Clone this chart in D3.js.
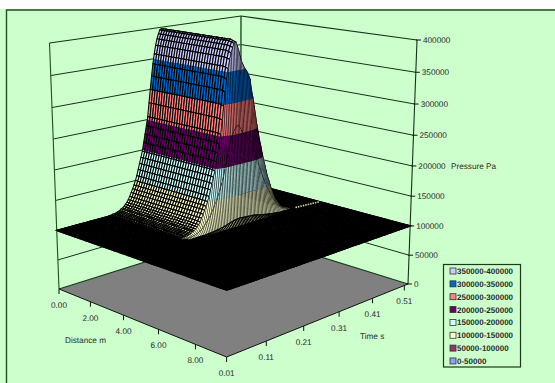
<!DOCTYPE html>
<html><head><meta charset="utf-8">
<script src="https://cdn.jsdelivr.net/npm/d3@7"></script>
<style>
html,body{margin:0;padding:0;background:#fff}
svg{display:block}
text{font-family:"Liberation Sans",Arial,sans-serif;font-size:8.2px;fill:#2a2a2a;text-rendering:geometricPrecision}
</style></head><body>
<svg id="c" width="555" height="383"></svg>
<script>
const legendLabels=["350000-400000","300000-350000","250000-300000","200000-250000","150000-200000","100000-150000","50000-100000","0-50000"];
const bandColors=["#CCCCFF","#0066CC","#FF8080","#660066","#CCFFFF","#FFFFCC","#993366","#9999FF"];
const pressureTicks=[0,50000,100000,150000,200000,250000,300000,350000,400000];
const distanceTicks=[0,2,4,6,8];
const timeTicks=[0.01,0.11,0.21,0.31,0.41,0.51];
const distanceStep=0.15, distanceMax=9.6, timeStep=0.004, timeMax=0.522;
// pressure (kPa) along the crest of the wave, one value per time row (0.01 s .. 0.522 s)
const crestPressure=[100,100,100,100,100,100,100,100,100,100,100,100,100,100,100,100,100,100,100,100,100,100,100,100,100,100,100,100,100,100,100,100,100,
100.5,101,101,102,102,103,104,105,107,108,110,113,116,120,125,131,137,143,150,158,168,178,188,198,212,226,240,255,278,300,322,342,358,372,382,390,396,398,392,
384,374,366,360,355,351,347,341,335,318,305,290,275,258,245,232,220,208,197,186,176,166,158,150,142,135,128,122,118,114,110,107,105,103,102,101,
100,100,100,100,100,100,100,100,100,100,100,100,100,100,100,100,100,100,100,100,100];
// share of the crest rise that remains at each distance column
const distanceReach=[1,1,1,1,1,1,1,1,1,1,1,1,1,1,1,1,1,1,1,1,1,1,1,1,1,1,1,1,.995,.99,.55,.04,
0,0,0,0,0,0,0,0,0,0,0,0,0,0,0,0,0,0,0,0,0,0,0,0,0,0,0,0,0,0,0,0,0];
// resting pressure (kPa) ahead of and behind the faint seam on the flat sheet
const restLevels=[99.9,100.1];
const seamTime=0.30;
// light strip at the foot of the wave: distance, time
const footStrip=[[4.6,0.455],[4.75,0.522]];

const svg=d3.select("#c");
svg.append("rect").attr("x",0).attr("y",9).attr("width",555).attr("height",374).attr("fill","#CCFFCC");
svg.append("path").attr("d","M6.5,383V10H555").attr("fill","none").attr("stroke","#1f4f1f").attr("stroke-width",1.4);

const floorQ=[[59,289],[226.6,357],[408,284],[240.5,232]];
const topQ=[[49.5,43],[227,76],[417,40],[241,16]];
function quadMap(q){
  const [p0,p1,p2,p3]=q;
  const dx1=p1[0]-p2[0],dx2=p3[0]-p2[0],dx3=p0[0]-p1[0]+p2[0]-p3[0];
  const dy1=p1[1]-p2[1],dy2=p3[1]-p2[1],dy3=p0[1]-p1[1]+p2[1]-p3[1];
  const det=dx1*dy2-dx2*dy1,g=(dx3*dy2-dx2*dy3)/det,h=(dx1*dy3-dx3*dy1)/det;
  const a=p1[0]-p0[0]+g*p1[0],b=p3[0]-p0[0]+h*p3[0],c=p0[0],d=p1[1]-p0[1]+g*p1[1],e=p3[1]-p0[1]+h*p3[1],f=p0[1];
  return (u,v)=>{const w=g*u+h*v+1;return [(a*u+b*v+c)/w,(d*u+e*v+f)/w];};
}
const mF=quadMap(floorQ),mT=quadMap(topQ);
const U=d3.scaleLinear().domain([0,distanceMax]).range([0,1]);
const V=d3.scaleLinear().domain([0.01,timeMax]).range([0,1]);
const Z=d3.scaleLinear().domain([0,400000]).range([0,1]);
const persp=n=>0.937*n/(1-0.063*n);
function project(d,t,p){
  const a=mF(U(d),V(t)),b=mT(U(d),V(t)),g=persp(Z(p));
  return [a[0]+(b[0]-a[0])*g,a[1]+(b[1]-a[1])*g];
}
const lineC=d3.line().curve(d3.curveLinearClosed);
const line=d3.line();
const walls=svg.append("g").attr("fill","none");
pressureTicks.slice(1).forEach(p=>{
  walls.append("path").attr("d",line([project(0,0.01,p),project(0,timeMax,p),project(distanceMax,timeMax,p)])).attr("stroke","#16321a").attr("stroke-width",p===400000?1.2:1);
});
walls.append("path").attr("d",line([project(0,0.01,0),project(0,0.01,400000)])).attr("stroke","#1f4f1f").attr("stroke-width",1.1);
walls.append("path").attr("d",line([project(0,timeMax,0),project(0,timeMax,400000)])).attr("stroke","#2a5c30").attr("stroke-width",1.5);
walls.append("path").attr("d",line([project(distanceMax,timeMax,0),project(distanceMax,timeMax,400000)])).attr("stroke","#16321a").attr("stroke-width",1.1);
svg.append("path").attr("d",lineC(floorQ)).attr("fill","#808080");
svg.append("path").attr("d",line([floorQ[0],floorQ[3],floorQ[2]])).attr("fill","none").attr("stroke","#123f18").attr("stroke-width",1.2);
svg.append("path").attr("d",line([floorQ[0],floorQ[1],floorQ[2]])).attr("fill","none").attr("stroke","#111").attr("stroke-width",1);
const tg=svg.append("g").attr("stroke","#111").attr("stroke-width",1);
distanceTicks.forEach(d=>{const p=project(d,0.01,0);
  tg.append("line").attr("x1",p[0]).attr("x2",p[0]).attr("y1",p[1]).attr("y2",p[1]+5);
  svg.append("text").attr("x",p[0]).attr("y",p[1]+19).attr("text-anchor","middle").text(d.toFixed(2));});
timeTicks.forEach(t=>{const p=project(distanceMax,t,0);
  tg.append("line").attr("x1",p[0]).attr("x2",p[0]).attr("y1",p[1]).attr("y2",p[1]+5);
  svg.append("text").attr("x",p[0]).attr("y",p[1]+19).attr("text-anchor","middle").text(t.toFixed(2));});
pressureTicks.forEach(v=>{const p=project(distanceMax,timeMax,v);
  tg.append("line").attr("x1",p[0]-1).attr("x2",p[0]+4).attr("y1",p[1]).attr("y2",p[1]);
  svg.append("text").attr("x",p[0]+6).attr("y",p[1]+3).text(v);});
svg.append("text").attr("x",451).attr("y",169).text("Pressure Pa");
svg.append("text").attr("x",65).attr("y",343).text("Distance m");
svg.append("text").attr("x",360).attr("y",339).text("Time s");

function clip(poly,lo,hi){
  const cut=(pts,keep,level)=>{const out=[];
    pts.forEach((a,i)=>{const b=pts[(i+1)%pts.length],ka=keep(a),kb=keep(b);
      if(ka)out.push(a);
      if(ka!==kb){const s=(level-a[2])/(b[2]-a[2]);out.push([a[0]+(b[0]-a[0])*s,a[1]+(b[1]-a[1])*s,level]);}});
    return out;};
  let r=cut(poly,p=>p[2]>=lo,lo);
  if(r.length)r=cut(r,p=>p[2]<=hi,hi);
  return r;
}
const pressure=(i,j)=>{
  const t=0.01+i*timeStep, rest=t<seamTime?restLevels[0]:restLevels[1];
  return rest+Math.max(0,crestPressure[i]-rest)*distanceReach[j];
};
const ops=[];
for(let j=0;j<distanceReach.length-1;j++){
  for(let i=crestPressure.length-2;i>=0;i--){
    const pt=(ii,jj)=>{const z=pressure(ii,jj);const q=project(jj*distanceStep,0.01+ii*timeStep,z*1000);return [q[0],q[1],z];};
    const poly=[pt(i,j),pt(i,j+1),pt(i+1,j+1),pt(i+1,j)];
    const zs=poly.map(p=>p[2]),lo=d3.min(zs),hi=d3.max(zs);
    const first=Math.floor(lo/50),last=Math.ceil(hi/50)-1;
    const steep=distanceReach[j]-distanceReach[j+1]>0.2;
    const w=hi<100.6?1.4:(steep?0.5:1.05);
    if(last<=first){ops.push({d:lineC(poly.map(p=>[p[0],p[1]])),f:bandColors[7-Math.max(0,Math.min(7,first))],s:"#000",w});}
    else{
      for(let b=first;b<=last;b++){const c=clip(poly,b*50,(b+1)*50);
        if(c.length>2)ops.push({d:lineC(c.map(p=>[p[0],p[1]])),f:bandColors[7-b],s:"none",w});}
      ops.push({d:lineC(poly.map(p=>[p[0],p[1]])),f:"none",s:"#000",w});
    }
  }
}
svg.append("g").selectAll("path").data(ops).join("path")
  .attr("d",o=>o.d).attr("fill",o=>o.f).attr("stroke",o=>o.s).attr("stroke-width",o=>o.w);
svg.append("path").attr("d",line(footStrip.map(s=>project(s[0],s[1],100000)))).attr("fill","none").attr("stroke","#d6d6a6").attr("stroke-width",1.6).attr("stroke-dasharray","1.5 1");

const lg=svg.append("g");
lg.append("rect").attr("x",443.5).attr("y",264.5).attr("width",77).attr("height",102.5).attr("fill","#CCFFCC").attr("stroke","#1a3a1a").attr("stroke-width",1.2);
legendLabels.forEach((l,i)=>{
  const y=271+i*12.85;
  lg.append("rect").attr("x",450).attr("y",y-3).attr("width",6).attr("height",6).attr("fill",bandColors[i]).attr("stroke","#333").attr("stroke-width",.8);
  lg.append("text").attr("x",457).attr("y",y+3).attr("font-weight","bold").style("font-size","8px").text(l);
});
</script></body></html>
